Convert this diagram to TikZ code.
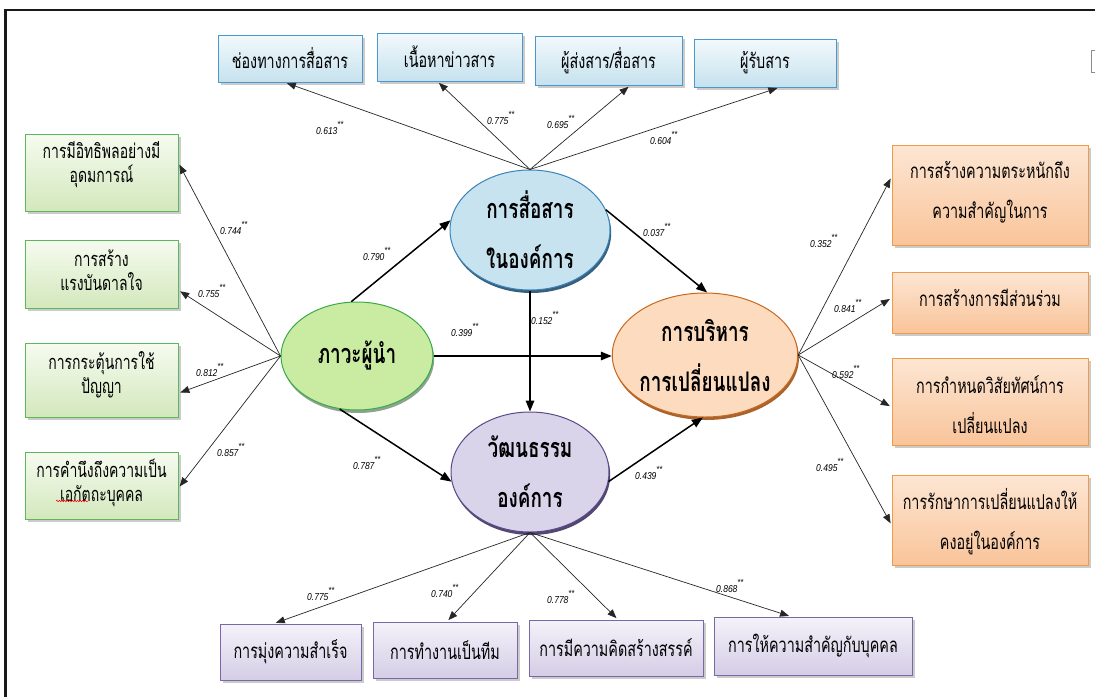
\documentclass[tikz,border=0pt]{standalone}
\usepackage{fontspec}
\usetikzlibrary{arrows.meta,shapes.geometric,shadows,calc,decorations.pathmorphing}
\newfontfamily\thaifont[Script=Thai,FakeStretch=0.7]{Loma}
\newfontfamily\coeffont[FakeStretch=0.85]{Liberation Sans}
\newcommand\coef[1]{{\coeffont\itshape\fontsize{10}{10}\selectfont #1\raisebox{6.5pt}{\fontsize{9}{9}\selectfont **}}}

\definecolor{topedge}{HTML}{4A98CC}
\definecolor{toptop}{HTML}{F2F9FC}
\definecolor{topbot}{HTML}{C6E2EE}
\definecolor{leftedge}{HTML}{5DB85C}
\definecolor{lefttop}{HTML}{F6FBF0}
\definecolor{leftbot}{HTML}{D3E8BC}
\definecolor{rightedge}{HTML}{F39A48}
\definecolor{righttop}{HTML}{FDE6D3}
\definecolor{rightbot}{HTML}{F9C49A}
\definecolor{botedge}{HTML}{7A68A6}
\definecolor{bottop}{HTML}{F4F2F9}
\definecolor{botbot}{HTML}{D4CDE6}
\definecolor{commfill}{HTML}{C7E3EF}
\definecolor{commedge}{HTML}{3A84B8}
\definecolor{leadfill}{HTML}{C9EBA2}
\definecolor{leadedge}{HTML}{3BAA4A}
\definecolor{chgfill}{HTML}{FCDBBF}
\definecolor{chgedge}{HTML}{C8681E}
\definecolor{culfill}{HTML}{DAD4EA}
\definecolor{culedge}{HTML}{5A4A8A}

\begin{document}
\begin{tikzpicture}[x=1pt,y=-1pt,
  box/.style={rectangle, draw, line width=0.9pt, inner sep=0pt,
    drop shadow={shadow xshift=2.5pt, shadow yshift=-2.5pt, fill=black!45, opacity=0.45}},
  topbox/.style={box, draw=topedge, top color=toptop, bottom color=topbot,
    font=\thaifont\fontsize{20.5}{24}\selectfont},
  leftbox/.style={box, draw=leftedge, top color=lefttop, bottom color=leftbot},
  rightbox/.style={box, draw=rightedge, top color=righttop, bottom color=rightbot},
  botbox/.style={box, draw=botedge, top color=bottop, bottom color=botbot,
    font=\thaifont\fontsize{20.5}{24}\selectfont},
  lefttxt/.style={inner sep=0pt, align=center, font=\thaifont\fontsize{20}{24}\selectfont},
  righttxt/.style={inner sep=0pt, align=center, font=\thaifont\fontsize{20.5}{40}\selectfont},
  oval/.style={ellipse, inner sep=0pt, line width=1pt, align=center,
    font=\thaifont\bfseries\fontsize{27}{50}\selectfont},
  thinarrow/.style={draw=black!85, line width=0.7pt, -{Triangle[length=9pt,width=7pt]}, shorten >=2pt},
  thickarrow/.style={draw=black, line width=1.5pt, -{Triangle[length=11pt,width=8.5pt]}},
  coeff/.style={anchor=base west, inner sep=0pt}
]
\useasboundingbox (0,0) rectangle (1095,697);
\fill[white] (0,0) rectangle (1095,697);

% page frame
\draw[line width=2.2pt, black!90] (5.5,697) -- (5.5,10) -- (1095,10);
\draw[black!45, line width=1pt] (1095,50.5) -- (1091.5,50.5) -- (1091.5,72.5) -- (1095,72.5);

% latent variables
\node[oval, fill=commfill, draw=commedge, minimum width=160pt, minimum height=120pt,
  drop shadow={shadow xshift=1.2pt, shadow yshift=-3pt, fill=commedge!60!black, opacity=0.9}]
  (ncomm) at (530,230) {การสื่อสาร\\ในองค์การ};
\node[oval, fill=leadfill, draw=leadedge, minimum width=152pt, minimum height=108pt,
  drop shadow={shadow xshift=1.2pt, shadow yshift=-3pt, fill=leadedge!40!black!70, opacity=0.7}]
  (nlead) at (357,356) {ภาวะผู้นำ};
\node[oval, fill=chgfill, draw=chgedge, minimum width=164pt, minimum height=124pt,
  drop shadow={shadow xshift=1.2pt, shadow yshift=-3pt, fill=chgedge!80!black, opacity=0.9}]
  (nchange) at (705,355) {การบริหาร\\การเปลี่ยนแปลง};
\node[oval, fill=culfill, draw=culedge, minimum width=158pt, minimum height=120pt,
  drop shadow={shadow xshift=1.2pt, shadow yshift=-3pt, fill=culedge!70!black, opacity=0.9}]
  (nculture) at (530,472) {วัฒนธรรม\\องค์การ};

% communication indicators
\node[topbox, minimum width=144pt, minimum height=47pt] (t1) at (290,58.5) {ช่องทางการสื่อสาร};
\node[topbox, minimum width=145pt, minimum height=48pt] (t2) at (449.5,57) {เนื้อหาข่าวสาร};
\node[topbox, minimum width=147pt, minimum height=49pt] (t3) at (608.5,60.5) {ผู้ส่งสาร/สื่อสาร};
\node[topbox, minimum width=142pt, minimum height=48pt] (t4) at (765,63) {ผู้รับสาร};

% leadership indicators
\node[leftbox, minimum width=153pt, minimum height=77pt] (l1) at (101.5,172.5) {};
\node[leftbox, minimum width=153pt, minimum height=68pt] (l2) at (101.5,274) {};
\node[leftbox, minimum width=153pt, minimum height=74pt] (l3) at (101.5,380) {};
\node[leftbox, minimum width=153pt, minimum height=67pt] (l4) at (101.5,485.5) {};
\node[lefttxt] (l1x) at (101.5,165) {การมีอิทธิพลอย่างมี\\อุดมการณ์};
\node[lefttxt] (l2x) at (101.5,270) {การสร้าง\\แรงบันดาลใจ};
\node[lefttxt] (l3x) at (101.5,375) {การกระตุ้นการใช้\\ปัญญา};
\node[lefttxt] (l4x) at (101.5,482.5) {การคำนึงถึงความเป็น\\เอกัตถะบุคคล};
\draw[red, line width=0.5pt, decorate, decoration={snake, amplitude=0.8pt, segment length=2.6pt}]
  (56,501) -- (88,501);

% change management indicators
\node[rightbox, minimum width=196pt, minimum height=100pt] (r1) at (990,195) {};
\node[rightbox, minimum width=196pt, minimum height=61pt] (r2) at (990,302.5) {};
\node[rightbox, minimum width=196pt, minimum height=87pt] (r3) at (990,401.5) {};
\node[rightbox, minimum width=196pt, minimum height=90pt] (r4) at (990,520) {};
\node[righttxt] (r1x) at (990,192) {การสร้างความตระหนักถึง\\ความสำคัญในการ};
\node[righttxt] (r2x) at (990,298) {การสร้างการมีส่วนร่วม};
\node[righttxt] (r3x) at (990,405) {การกำหนดวิสัยทัศน์การ\\เปลี่ยนแปลง};
\node[righttxt] (r4x) at (990,522) {การรักษาการเปลี่ยนแปลงให้\\คงอยู่ในองค์การ};

% culture indicators
\node[botbox, minimum width=141pt, minimum height=56pt] (b1) at (290.5,652) {การมุ่งความสำเร็จ};
\node[botbox, minimum width=144pt, minimum height=56pt] (b2) at (445,650) {การทำงานเป็นทีม};
\node[botbox, minimum width=174pt, minimum height=56pt] (b3) at (616,648) {การมีความคิดสร้างสรรค์};
\node[botbox, minimum width=198pt, minimum height=58pt] (b4) at (813,646) {การให้ความสำคัญกับบุคคล};

% loadings: communication
\draw[thinarrow] (ncomm.north) -- ($(t1.south west)!0.465!(t1.south east)$);
\draw[thinarrow] (ncomm.north) -- ($(t2.south west)!0.417!(t2.south east)$);
\draw[thinarrow] (ncomm.north) -- ($(t3.south west)!0.646!(t3.south east)$);
\draw[thinarrow] (ncomm.north) -- ($(t4.south west)!0.6!(t4.south east)$);

% loadings: leadership
\draw[thinarrow] (nlead.west) -- ($(l1.north east)!0.377!(l1.south east)$);
\draw[thinarrow] (nlead.west) -- ($(l2.north east)!0.735!(l2.south east)$);
\draw[thinarrow] (nlead.west) -- ($(l3.north east)!0.676!(l3.south east)$);
\draw[thinarrow] (nlead.west) -- ($(l4.north east)!0.537!(l4.south east)$);

% loadings: change management
\draw[thinarrow] (nchange.east) -- ($(r1.north west)!0.32!(r1.south west)$);
\draw[thinarrow] (nchange.east) -- ($(r2.north west)!0.426!(r2.south west)$);
\draw[thinarrow] (nchange.east) -- ($(r3.north west)!0.563!(r3.south west)$);
\draw[thinarrow] (nchange.east) -- ($(r4.north west)!0.556!(r4.south west)$);

% loadings: culture
\draw[thinarrow] (nculture.south) -- ($(b1.north west)!0.383!(b1.north east)$);
\draw[thinarrow] (nculture.south) -- ($(b2.north west)!0.514!(b2.north east)$);
\draw[thinarrow] (nculture.south) -- ($(b3.north west)!0.511!(b3.north east)$);
\draw[thinarrow] (nculture.south) -- ($(b4.north west)!0.389!(b4.north east)$);

% structural paths
\draw[thickarrow] (nlead.96) -- (ncomm.173);
\draw[thickarrow] (nlead.east) -- (nlead.east -| nchange.west);
\draw[thickarrow] (ncomm.south) -- (nculture.north);
\draw[thickarrow] (ncomm.15) -- (nchange.88);
\draw[thickarrow] (nlead.252) -- (nculture.187);
\draw[thickarrow] (nculture.353) -- (nchange.268);

% coefficients
\node[coeff] (c1) at (316,134) {\coef{0.613}};
\node[coeff] (c2) at (487,124) {\coef{0.775}};
\node[coeff] (c3) at (547,128) {\coef{0.695}};
\node[coeff] (c4) at (650,144) {\coef{0.604}};
\node[coeff] (c5) at (220,234) {\coef{0.744}};
\node[coeff] (c6) at (198,297) {\coef{0.755}};
\node[coeff] (c7) at (196,376) {\coef{0.812}};
\node[coeff] (c8) at (217,456) {\coef{0.857}};
\node[coeff] (c9) at (810,247) {\coef{0.352}};
\node[coeff] (c10) at (834,312) {\coef{0.841}};
\node[coeff] (c11) at (832,378) {\coef{0.592}};
\node[coeff] (c12) at (816,471) {\coef{0.495}};
\node[coeff] (c13) at (307,600) {\coef{0.775}};
\node[coeff] (c14) at (431,597) {\coef{0.740}};
\node[coeff] (c15) at (547,603) {\coef{0.778}};
\node[coeff] (c16) at (716,592) {\coef{0.868}};
\node[coeff] (c17) at (363,260) {\coef{0.790}};
\node[coeff] (c18) at (451,336) {\coef{0.399}};
\node[coeff] (c19) at (531,324) {\coef{0.152}};
\node[coeff] (c20) at (643,236) {\coef{0.037}};
\node[coeff] (c21) at (353,469) {\coef{0.787}};
\node[coeff] (c22) at (635,479) {\coef{0.439}};
\end{tikzpicture}
\end{document}
